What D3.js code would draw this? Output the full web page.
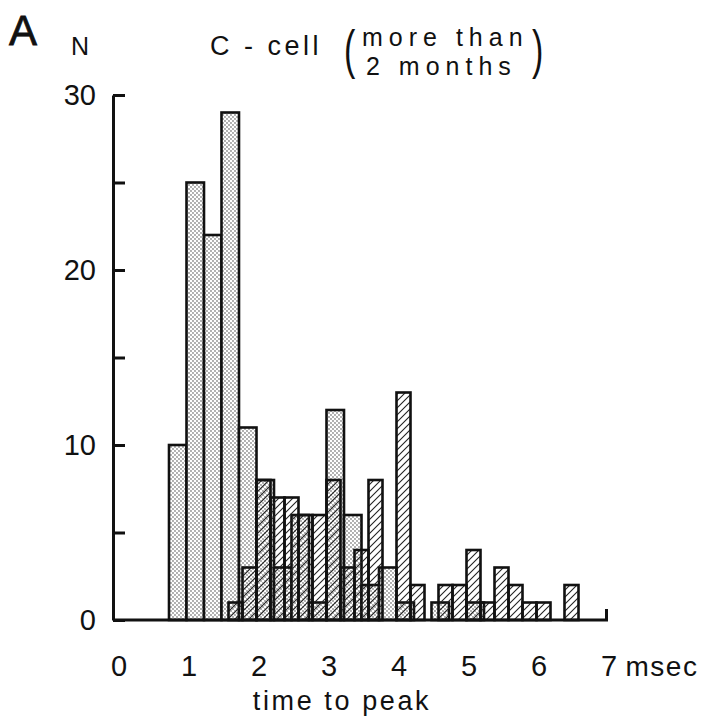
<!DOCTYPE html>
<html>
<head>
<meta charset="utf-8">
<script src="https://cdn.jsdelivr.net/npm/d3@7"></script>
<style>
  html, body { margin: 0; padding: 0; background: #fff; }
  svg { display: block; }
  text { font-family: "Liberation Sans", Arial, sans-serif; fill: #111; }
</style>
</head>
<body>
<svg id="chart" width="713" height="717"></svg>
<script>
// ---- data ----
const stippledStarts = [0.75, 1.0, 1.25, 1.5, 1.75, 2.0, 2.25, 2.5, 2.75, 3.0, 3.25, 3.5, 3.75, 4.0, 4.5, 5.0];
const stippledCounts = [10, 25, 22, 29, 11, 8, 3, 6, 1, 12, 6, 2, 3, 1, 1, 1];
const stippledBinWidth = 0.25;

const hatchedStarts = [1.6, 1.8, 2.0, 2.2, 2.4, 2.6, 2.8, 3.0, 3.2, 3.4, 3.6, 4.0, 4.2, 4.6, 4.8, 5.0, 5.2, 5.4, 5.6, 5.8, 6.0, 6.4];
const hatchedCounts = [1, 3, 8, 7, 7, 6, 6, 8, 3, 4, 8, 13, 2, 2, 2, 4, 1, 3, 2, 1, 1, 2];
const hatchedBinWidth = 0.2;

const xTickValues = [0, 1, 2, 3, 4, 5, 6, 7];
const yTickValues = [0, 5, 10, 15, 20, 25, 30];
const yLabelValues = [0, 10, 20, 30];

const panelLabel = "A";
const yTitle = "N";
const chartTitle = "C - cell";
const noteLines = ["more than", "2 months"];
const xUnit = "msec";
const xTitle = "time to peak";

// ---- layout ----
const svg = d3.select("#chart");
svg.append("rect").attr("width", 713).attr("height", 717).attr("fill", "#fff");

const x = d3.scaleLinear().domain([0, 7]).range([116.5, 606.5]);
const y = d3.scaleLinear().domain([0, 30]).range([620, 95]);
const axisX = 113;

// patterns
const defs = svg.append("defs");
const stip = defs.append("pattern").attr("id", "stipple").attr("patternUnits", "userSpaceOnUse")
  .attr("width", 4).attr("height", 4);
stip.append("rect").attr("width", 4).attr("height", 4).attr("fill", "#fff");
stip.append("circle").attr("cx", 1).attr("cy", 1).attr("r", 0.65).attr("fill", "#222");
stip.append("circle").attr("cx", 3).attr("cy", 3).attr("r", 0.65).attr("fill", "#222");

const hatch = defs.append("pattern").attr("id", "hatch").attr("patternUnits", "userSpaceOnUse")
  .attr("width", 7).attr("height", 7);
hatch.append("path").attr("d", "M-1,8 L8,-1 M-4.5,4.5 L1,-1 M6,8 L8.5,5.5")
  .attr("stroke", "#222").attr("stroke-width", 1.1).attr("fill", "none");

const stippled = stippledStarts.map((s, i) => ({ x0: s, x1: s + stippledBinWidth, n: stippledCounts[i] }));
const hatched = hatchedStarts.map((s, i) => ({ x0: s, x1: s + hatchedBinWidth, n: hatchedCounts[i] }));

svg.append("g").selectAll("rect").data(stippled).join("rect")
  .attr("x", d => x(d.x0)).attr("width", d => x(d.x1) - x(d.x0))
  .attr("y", d => y(d.n)).attr("height", d => y(0) - y(d.n))
  .attr("fill", "url(#stipple)").attr("stroke", "#111").attr("stroke-width", 2.6);

svg.append("g").selectAll("rect").data(hatched).join("rect")
  .attr("x", d => x(d.x0)).attr("width", d => x(d.x1) - x(d.x0))
  .attr("y", d => y(d.n)).attr("height", d => y(0) - y(d.n))
  .attr("fill", "url(#hatch)").attr("stroke", "#111").attr("stroke-width", 2.6);

// y axis: ticks pointing inward (right)
const gy = svg.append("g").attr("transform", `translate(${axisX},0)`)
  .call(d3.axisRight(y).tickValues(yTickValues).tickSize(12).tickSizeOuter(0).tickFormat(""));
gy.selectAll("path, line").attr("stroke", "#111").attr("stroke-width", 3);

// y labels on the left
const gyl = svg.append("g").attr("transform", `translate(${axisX},0)`)
  .call(d3.axisLeft(y).tickValues(yLabelValues).tickSize(0).tickPadding(17).tickFormat(d3.format("d")));
gyl.select(".domain").remove();
gyl.selectAll("text").attr("font-size", 29).attr("font-family", "Liberation Sans, Arial, sans-serif").attr("fill", "#111");

// x axis baseline
svg.append("path")
  .attr("d", `M${axisX},${y(0)} H${x(7)} V${y(0) - 11}`)
  .attr("stroke", "#111").attr("stroke-width", 3).attr("fill", "none");

const gx = svg.append("g").attr("transform", `translate(2,${y(0)})`)
  .call(d3.axisBottom(x).tickValues(xTickValues).tickSize(0).tickPadding(35).tickFormat(d3.format("d")));
gx.select(".domain").remove();
gx.selectAll("text").attr("font-size", 29).attr("font-family", "Liberation Sans, Arial, sans-serif").attr("fill", "#111");

svg.append("text").attr("x", x(7) + 19).attr("y", 676).attr("font-size", 28)
  .attr("letter-spacing", 1.5).text(xUnit);

svg.append("text").attr("x", 342).attr("y", 710).attr("font-size", 27)
  .attr("text-anchor", "middle").attr("letter-spacing", 2.6).text(xTitle);

// titles
svg.append("text").attr("x", 9).attr("y", 45).attr("font-size", 42)
  .attr("stroke", "#111").attr("stroke-width", 0.8).text(panelLabel);
svg.append("text").attr("x", 71).attr("y", 55).attr("font-size", 25).text(yTitle);
svg.append("text").attr("x", 210).attr("y", 55).attr("font-size", 27)
  .attr("letter-spacing", 3.5).text(chartTitle);

svg.append("text").attr("transform", "translate(344,68) scale(1,1.6)").attr("font-size", 34).text("(");
svg.append("text").attr("x", 362).attr("y", 46).attr("font-size", 25)
  .attr("letter-spacing", 6).text(noteLines[0]);
svg.append("text").attr("x", 366).attr("y", 75).attr("font-size", 25)
  .attr("letter-spacing", 6).text(noteLines[1]);
svg.append("text").attr("transform", "translate(532,68) scale(1,1.6)").attr("font-size", 34).text(")");
</script>
</body>
</html>
